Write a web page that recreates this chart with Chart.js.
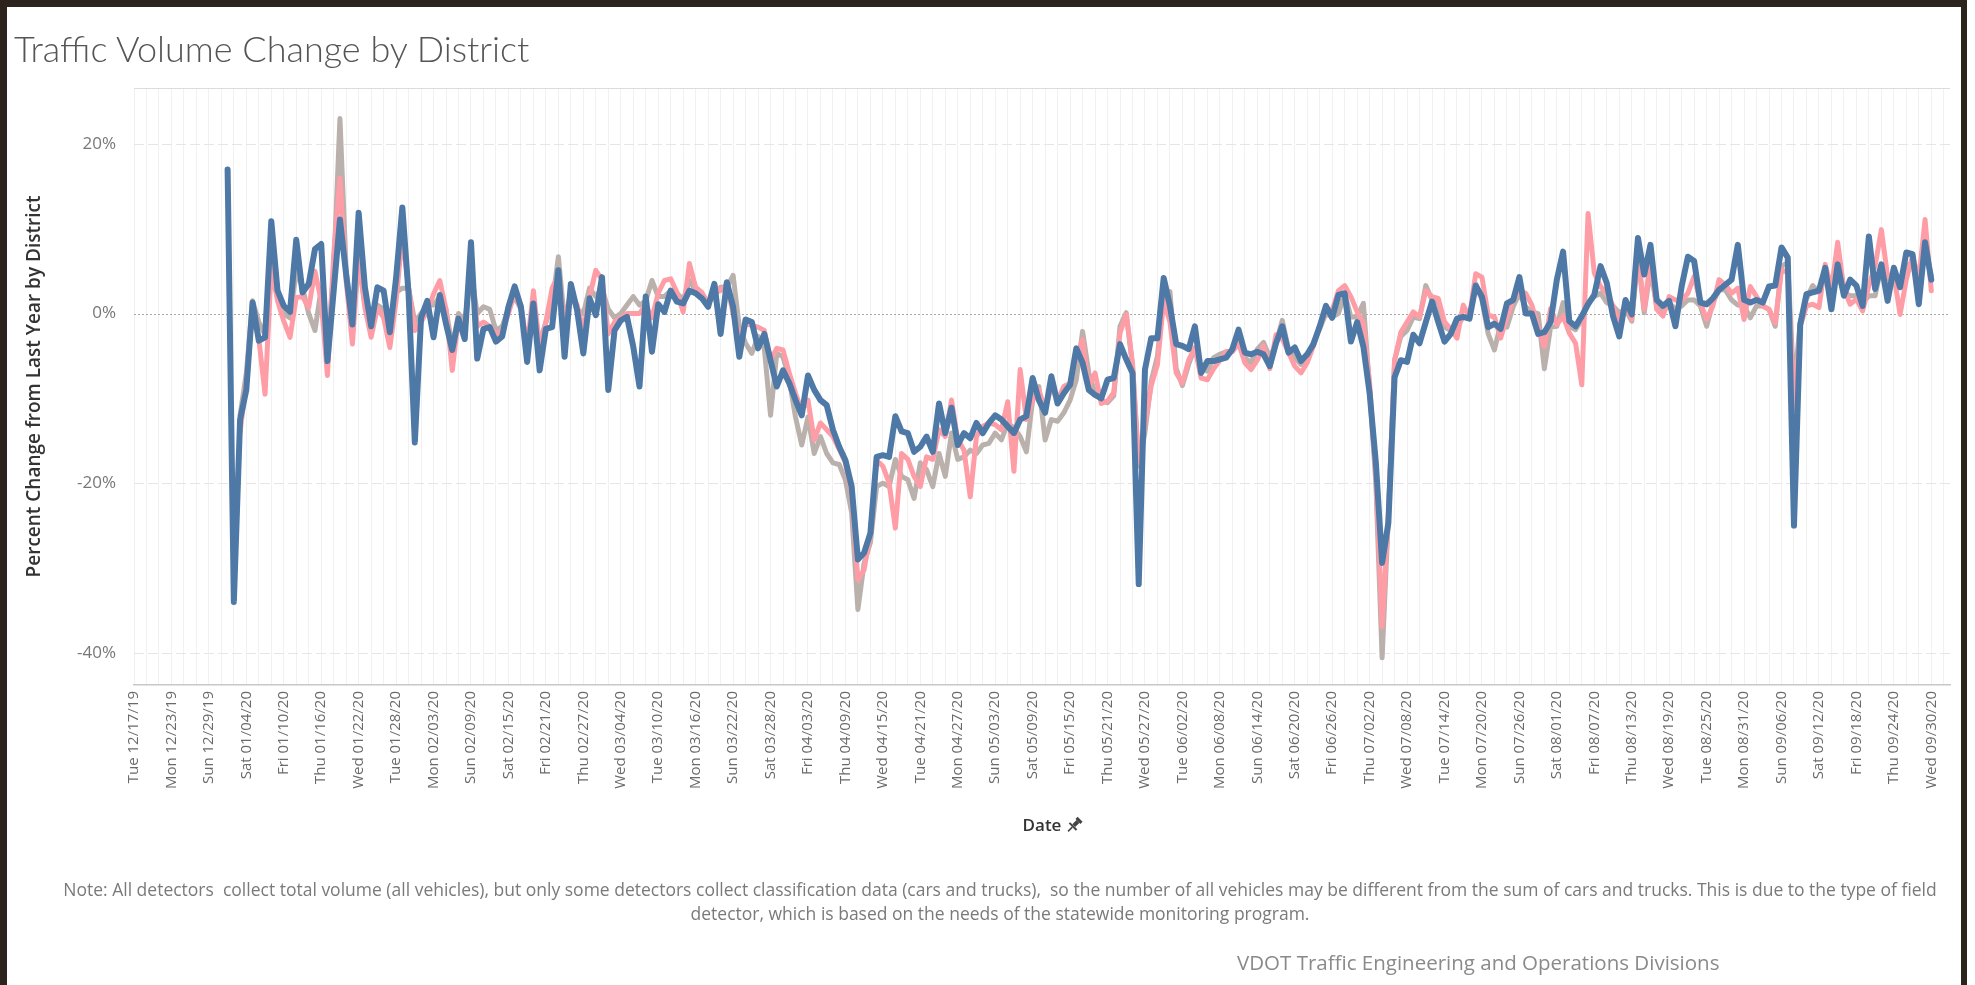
<!DOCTYPE html>
<html>
<head>
<meta charset="utf-8">
<title>Traffic Volume Change by District</title>
<script src="https://cdn.jsdelivr.net/npm/chart.js@4.4.1/dist/chart.umd.min.js"></script>
<style>
  html, body { margin: 0; padding: 0; background: #fff; }
  #page { position: relative; width: 1975px; height: 985px; overflow: hidden; background: #fff; font-family: "Open Sans", Lato, sans-serif; }
  .edge { position: absolute; background: #2b231c; }
  #chart { position: absolute; left: 0; top: 0; }
  #title { position: absolute; left: 14px; top: 26px; font: 300 36px Lato, "Open Sans", sans-serif; color: #555; white-space: nowrap; line-height: 44px; }
  .note { position: absolute; left: 0; width: 2000px; text-align: center; font-size: 17.5px; line-height: 24px; color: #7a7a7a; white-space: nowrap; }
  #credit { position: absolute; left: 1237px; top: 948px; font-size: 20.5px; line-height: 28px; color: #8a8a8a; white-space: nowrap; }
</style>
</head>
<body>
<div id="page">
  <canvas id="chart" width="1975" height="985"></canvas>
  <div id="title">Traffic Volume Change by District</div>
  <div class="note" style="top:877px">Note: All detectors&nbsp; collect total volume (all vehicles), but only some detectors collect classification data (cars and trucks),&nbsp; so the number of all vehicles may be different from the sum of cars and trucks. This is due to the type of field</div>
  <div class="note" style="top:901px">detector, which is based on the needs of the statewide monitoring program.</div>
  <div id="credit">VDOT Traffic Engineering and Operations Divisions</div>
  <div class="edge" style="left:0;top:0;width:7px;height:985px"></div>
  <div class="edge" style="left:0;top:0;width:1967px;height:7px"></div>
  <div class="edge" style="left:1961px;top:0;width:6px;height:985px"></div>
</div>
<script>
// Traffic volume change, daily, 01/01/20 - 09/30/20 (percent vs last year)

// x axis: day 0 = Tue 12/17/19, a label every 6 days
const tickLabels = [
    'Tue 12/17/19', 'Mon 12/23/19', 'Sun 12/29/19', 'Sat 01/04/20', 'Fri 01/10/20', 'Thu 01/16/20', 'Wed 01/22/20',
    'Tue 01/28/20', 'Mon 02/03/20', 'Sun 02/09/20', 'Sat 02/15/20', 'Fri 02/21/20', 'Thu 02/27/20', 'Wed 03/04/20',
    'Tue 03/10/20', 'Mon 03/16/20', 'Sun 03/22/20', 'Sat 03/28/20', 'Fri 04/03/20', 'Thu 04/09/20', 'Wed 04/15/20',
    'Tue 04/21/20', 'Mon 04/27/20', 'Sun 05/03/20', 'Sat 05/09/20', 'Fri 05/15/20', 'Thu 05/21/20', 'Wed 05/27/20',
    'Tue 06/02/20', 'Mon 06/08/20', 'Sun 06/14/20', 'Sat 06/20/20', 'Fri 06/26/20', 'Thu 07/02/20', 'Wed 07/08/20',
    'Tue 07/14/20', 'Mon 07/20/20', 'Sun 07/26/20', 'Sat 08/01/20', 'Fri 08/07/20', 'Thu 08/13/20', 'Wed 08/19/20',
    'Tue 08/25/20', 'Mon 08/31/20', 'Sun 09/06/20', 'Sat 09/12/20', 'Fri 09/18/20', 'Thu 09/24/20', 'Wed 09/30/20'
];
const tickStep = 6;
const firstDay = 15;        // 01/01/20
const yTicks = [20, 0, -20, -40];

const blueValues = [
    17, -34, -12.5, -9, 1.3, -3.2, -2.8, 10.9, 2.7, 0.9,
    0.2, 8.7, 2.5, 3.5, 7.6, 8.2, -5.6, 2.7, 11.1, 4.6,
    -1.3, 11.9, 3.1, -1.5, 3.1, 2.7, -2.2, 4.2, 12.5, 2.3,
    -15.2, -0.5, 1.5, -2.8, 2.2, -1.2, -4.3, -0.6, -3, 8.4,
    -5.3, -1.8, -1.6, -3.3, -2.7, 0.8, 3.2, 0.8, -5.7, 1.2,
    -6.7, -1.8, -1.6, 5.1, -5.1, 3.5, 0.4, -4.7, 1.8, -0.2,
    4.3, -9, -2, -0.8, -0.4, -3.9, -8.6, 2, -4.5, 1.1,
    0.2, 2.7, 1.4, 1.2, 2.7, 2.4, 1.8, 0.8, 3.5, -2.4,
    3.7, 0.8, -5.1, -0.7, -1, -4.1, -2.4, -5.5, -8.6, -6.7,
    -8.2, -10.2, -12, -7.3, -9, -10.2, -10.8, -13.7, -15.7, -17.3,
    -20.4, -29, -28.2, -25.9, -16.9, -16.7, -16.9, -12.1, -13.9, -14.1,
    -16.3, -15.7, -14.5, -16.3, -10.6, -14.1, -11.1, -15.5, -14.1, -14.7,
    -12.9, -14.1, -12.9, -12, -12.5, -13.3, -14.1, -12.5, -12.1, -7.6,
    -10.2, -11.7, -7.4, -10.6, -9.4, -8.4, -4.1, -5.8, -9, -9.6,
    -10, -7.8, -7.6, -3.6, -5.4, -7, -31.9, -6.6, -2.9, -2.9,
    4.2, 0.9, -3.6, -3.8, -4.2, -1.5, -7, -5.6, -5.6, -5.4,
    -5.2, -4.2, -1.9, -4.6, -4.8, -4.5, -4.8, -6.2, -3.5, -1.5,
    -4.6, -4, -5.6, -4.8, -3.6, -1.5, 0.9, -0.5, 2.2, 2.4,
    -3.3, -1, -3.9, -9.4, -17.6, -29.4, -24.7, -7.5, -5.5, -5.7,
    -2.5, -3.5, -1, 1.4, -1, -3.3, -2.4, -0.6, -0.4, -0.6,
    3.3, 2, -1.6, -1.2, -1.8, 1.2, 1.6, 4.3, 0, 0,
    -2.4, -2.2, -1, 4, 7.3, -0.9, -1.5, -0.3, 1.1, 2.2,
    5.6, 3.6, -0.3, -2.7, 1.6, -0.1, 8.9, 4.6, 8.1, 1.6,
    0.9, 1.5, -1.5, 3.2, 6.7, 6.2, 1.3, 1.1, 1.8, 2.8,
    3.4, 4, 8.1, 1.6, 1.3, 1.6, 1.3, 3.2, 3.3, 7.8,
    6.6, -25, -1.3, 2.3, 2.5, 2.7, 5.4, 0.5, 5.8, 2.1,
    4, 3.3, 0.9, 9.1, 2.9, 5.8, 1.5, 5.4, 3.1, 7.2,
    7, 1.1, 8.4, 4
];

const pinkValues = [
    null, null, -14, -8, 0.5, -3, -9.5, 5.4, 1.5, -0.9,
    -2.8, 1.9, 2, 0.7, 5, 1.5, -7.3, 7, 16, 3.8,
    -3.6, 7, 0.7, -2.8, 0.7, -0.5, -4, 1.5, 9.3, 3,
    -2, -1, 0.3, 2.3, 3.9, 0.5, -6.7, -0.5, -2, 6,
    -1.5, -1, -1.5, -2.5, -2, 0, 2.5, 1, -4, 2.7,
    -4, -1, 3, 4.5, -1.5, 2.5, 1, -2, 2, 5.1,
    4, -2.4, -1, -0.5, 0, 0, 0, 1, -0.5, 2.4,
    3.9, 4.1, 2.5, 0.2, 5.9, 3.1, 2.5, 1.2, 3.2, 2.7,
    3.5, 0, -2.7, -1.2, -1.4, -1.6, -2, -5.5, -4.1, -4.3,
    -7, -9.4, -11.4, -10.2, -14.9, -12.9, -13.7, -14.5, -16, -17.6,
    -21.2, -31.4, -30.2, -25.9, -17.3, -18, -20, -25.3, -16.5, -17.2,
    -19.2, -20.4, -16.9, -17.2, -13.7, -14.5, -10.2, -14.9, -16.1, -21.6,
    -14.5, -13.3, -12.9, -13.1, -13.7, -10.4, -18.6, -6.6, -12.5, -10.2,
    -9, -11.3, -8.6, -10.2, -8.6, -8.2, -5, -3.1, -8.6, -7,
    -10.6, -10.3, -9.3, -2.3, -0.1, -5.8, -17.6, -13, -8.5, -6,
    1.5, -1, -7, -8.2, -5.5, -4, -7.6, -7.8, -6.5, -5.5,
    -4.5, -4.5, -3.5, -5.8, -6.6, -5.5, -3.8, -6.5, -2.5, -3,
    -4.6, -6.2, -7, -5.8, -3.8, -1.5, 0.5, 0.4, 2.7, 3.3,
    2, 0.2, -1.2, -8.2, -19.2, -36.9, -23.9, -5.5, -2.2, -1,
    0.2, -0.4, 2.7, 2, 1.8, -1, -1.8, -2.9, 1, -0.4,
    4.7, 4.3, -0.2, -0.4, -2.9, -0.4, 1.6, 2.7, 2.4, 1,
    -1.6, -3.9, 0.6, -1.3, -0.3, -2.3, -3.5, -8.4, 11.8, 4.8,
    3.2, 2.4, 0.9, -1.1, 1.3, -0.7, 7.1, 0.5, 6.4, 0.5,
    -0.3, 2, 1.6, 1.6, 2.4, 4.4, 1.3, -0.7, 0.9, 4,
    3.4, 2.4, 3, -0.7, 3.2, 2, 0.9, 0.5, -1.1, 5.2,
    4.8, -11.3, -1.5, 0.9, 1.1, 0.7, 5.8, 2.9, 8.4, 2.9,
    1.1, 1.7, 0.3, 3.3, 5.6, 9.9, 4.4, 4.6, -0.1, 4,
    6.8, 4, 11.1, 2.7
];

const grayValues = [
    null, null, -12, -7, 1.5, -1, -2.5, 6, 2, 0,
    -0.5, 5, 3, 0, -2, 3, -4, 5, 23, 5,
    -1, 6, 1, -1, 1, 0.5, -1, 2.5, 3, 3,
    -1, 0, 1, 1, 2, 0.5, -4, 0, -1, 5,
    0, 0.8, 0.5, -2, -1.5, 0.5, 2, 0.5, -4, 1,
    -3.5, -1, 1, 6.7, -1, 2.5, 0.5, 0, 3, 2,
    3, 0.5, -0.5, 0, 1, 2, 1, 1.5, 3.9, 2,
    2, 2.7, 2.4, 1.6, 3.9, 2.7, 2, 1.2, 2, 3.1,
    3.1, 4.5, -1.6, -3.5, -4.7, -2.7, -4.1, -12, -4.7, -5.1,
    -7.8, -12.2, -15.5, -12.2, -16.5, -14.5, -16.5, -17.6, -17.8, -19.6,
    -23.5, -34.9, -29.4, -27, -20.4, -20, -20.4, -17.2, -19.2, -19.6,
    -21.8, -17.6, -18.4, -20.4, -16.5, -19.2, -14.1, -17.2, -16.9, -16.1,
    -16.5, -15.5, -15.3, -14.1, -14.9, -12.9, -13.5, -14.5, -16.3, -10.2,
    -8.6, -14.9, -12.5, -12.7, -11.7, -10.2, -7.8, -2.1, -7, -9.4,
    -10.2, -10.5, -9.7, -1.5, 0.1, -6.2, -18, -14, -8, -5,
    2, 2.6, -6.5, -8.5, -6, -4, -6.5, -6.8, -5.2, -4.8,
    -4.5, -4.4, -3, -5.2, -5.8, -4.2, -3.4, -5.2, -3.5, -0.8,
    -4.2, -5.2, -6, -5.2, -3.4, -1.8, 0, -0.4, 0, 2.4,
    -0.4, -0.4, 1.2, -9, -20, -40.6, -24, -5.5, -2.7, -2,
    -0.4, -0.6, 3.3, 1.6, 1.2, -1.6, -2, -1.6, -0.4, -0.4,
    3.5, 1.6, -2.4, -4.3, -1.2, -1.6, 0.8, 2.4, 0.8, 0.2,
    0, -6.5, -1.6, -1.5, 1.3, -1.5, -1.9, -0.7, 1.3, 2,
    2.4, 1.3, 0.9, 0.1, 0.5, -0.9, 6.7, 0.1, 5.2, 0.9,
    0.1, 1.3, 0.5, 0.9, 1.6, 1.6, 0.9, -1.5, 1.3, 2.8,
    2.8, 1.6, 1, 0.9, -0.5, 0.9, 0.9, 0.5, -1.5, 5.6,
    6, -9, -1, 1.7, 3.3, 2.5, 4.5, 3.6, 4.5, 2.5,
    2.1, 2.1, 1.3, 2.1, 2.1, 5.6, 3.6, 4.5, 3.3, 5.6,
    6, 2.5, 8, 4.4
];

const toPoints = values => values.map((v, i) => ({ x: firstDay + i, y: v }));

Chart.defaults.font.family = '"Open Sans", Lato, sans-serif';

// light gridlines, dotted zero line, top rule
const gridPlugin = {
    id: 'gridLines',
    beforeDatasetsDraw(chart) {
        const { ctx, chartArea, scales } = chart;
        ctx.save();
        ctx.strokeStyle = '#dcdcdc';
        ctx.lineWidth = 1;
        ctx.beginPath();
        ctx.moveTo(chartArea.left, chartArea.top + 0.5);
        ctx.lineTo(chartArea.right, chartArea.top + 0.5);
        ctx.stroke();
        yTicks.forEach(v => {
            const y = Math.round(scales.y.getPixelForValue(v)) + 0.5;
            ctx.beginPath();
            if (v === 0) {
                ctx.strokeStyle = '#a8a8a8';
                ctx.setLineDash([2, 2]);
            } else {
                ctx.strokeStyle = '#e6e6e6';
                ctx.setLineDash([10, 4]);
            }
            ctx.moveTo(chartArea.left, y);
            ctx.lineTo(chartArea.right, y);
            ctx.stroke();
        });
        ctx.restore();
    },
    afterDraw(chart) {
        // pin icon next to the "Date" axis title
        const { ctx, chartArea, scales } = chart;
        ctx.save();
        ctx.font = '600 17px "Open Sans"';
        const w = ctx.measureText('Date').width;
        const cx = (chartArea.left + chartArea.right) / 2 + w / 2 + 13;
        const cy = scales.x.bottom - 15;
        ctx.translate(cx, cy);
        ctx.rotate(Math.PI / 4);
        ctx.fillStyle = '#444';
        ctx.fillRect(-3.5, -8, 7, 3);
        ctx.fillRect(-2, -5, 4, 6);
        ctx.fillRect(-5, 1, 10, 2);
        ctx.fillRect(-0.75, 3, 1.5, 6);
        ctx.restore();
    }
};

new Chart(document.getElementById('chart'), {
    type: 'line',
    data: {
        datasets: [
            { label: 'Series 1', data: toPoints(blueValues), borderColor: '#4e79a7', borderWidth: 6, order: 0 },
            { label: 'Series 2', data: toPoints(pinkValues), borderColor: '#ff9da7', borderWidth: 5, order: 1 },
            { label: 'Series 3', data: toPoints(grayValues), borderColor: '#bab0ac', borderWidth: 5, order: 2 }
        ]
    },
    options: {
        responsive: false,
        animation: false,
        events: [],
        elements: {
            line: { tension: 0, borderJoinStyle: 'round', borderCapStyle: 'round', fill: false },
            point: { radius: 0 }
        },
        layout: { padding: { left: 14, top: 88, right: 25, bottom: 145 } },
        plugins: {
            legend: { display: false },
            tooltip: { enabled: false }
        },
        scales: {
            x: {
                type: 'linear',
                min: 0,
                max: 291,
                afterBuildTicks: scale => {
                    const ticks = [];
                    for (let v = 0; v <= 290; v += 2) ticks.push({ value: v });
                    scale.ticks = ticks;
                },
                afterFit: scale => { scale.height = 155; },
                ticks: {
                    autoSkip: false,
                    minRotation: 90,
                    maxRotation: 90,
                    padding: 6,
                    color: '#6a6a6a',
                    font: { size: 15 },
                    callback: v => (v % tickStep === 0 ? tickLabels[v / tickStep] : '')
                },
                grid: { color: 'rgba(0,0,0,0.055)', drawTicks: false },
                border: { color: '#c8c8c8', width: 1.5 },
                title: {
                    display: true,
                    text: 'Date',
                    color: '#333',
                    font: { size: 17, weight: '600' },
                    padding: { top: 0, bottom: 4 }
                }
            },
            y: {
                min: -43.8,
                max: 26.6,
                afterBuildTicks: scale => { scale.ticks = yTicks.map(v => ({ value: v })); },
                afterFit: scale => { scale.width = 120; },
                ticks: {
                    color: '#777',
                    font: { size: 17 },
                    padding: 10,
                    callback: v => v + '%'
                },
                grid: { display: false },
                border: { display: false },
                title: {
                    display: true,
                    text: 'Percent Change from Last Year by District',
                    color: '#333',
                    font: { size: 19, weight: '600' },
                    padding: { top: 9, bottom: 0 }
                }
            }
        }
    },
    plugins: [gridPlugin]
});
</script>
</body>
</html>
